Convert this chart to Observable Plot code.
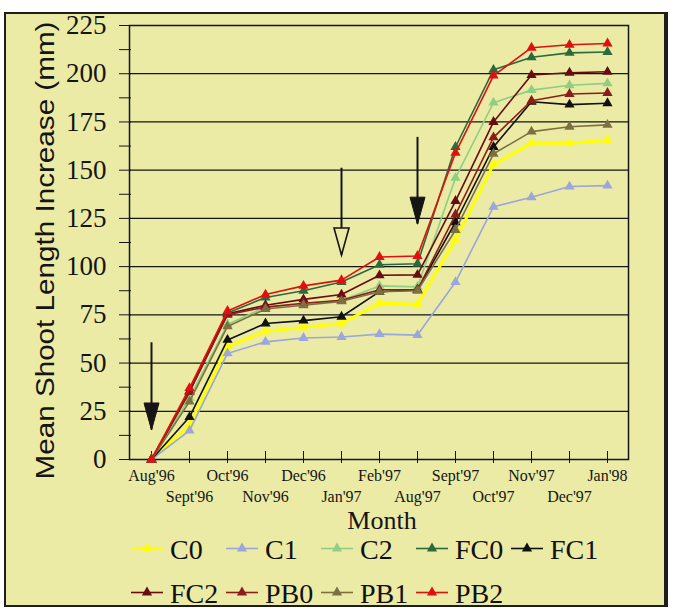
<!DOCTYPE html>
<html>
<head>
<meta charset="utf-8">
<script src="https://cdn.jsdelivr.net/npm/d3@7"></script>
<script src="https://cdn.jsdelivr.net/npm/@observablehq/plot@0.6"></script>
<style>
  html, body { margin: 0; padding: 0; background: #fff; overflow: hidden; width: 674px; height: 613px; }
  #panel { position: absolute; left: 4px; top: 12px; width: 664px; height: 595px; box-sizing: border-box;
           border: 2px solid #1d1d1d; border-right-width: 4px; background: #ebeba6; }
  #chart { position: absolute; left: 0; top: 0; }
  #legend { position: absolute; left: 0; top: 0; font-family: "Liberation Serif", "Times New Roman", Times, serif;
            font-size: 28px; color: #111; }
  .item { position: absolute; display: flex; align-items: flex-start; height: 30px; line-height: 30px; white-space: nowrap; }
  .item svg { display: block; margin-right: 7px; }
</style>
</head>
<body>
<div id="panel"></div>
<div id="chart"></div>
<div id="legend"></div>
<script>
// Sampling months (note the gap between Feb'97 and Aug'97)
const months = ["Aug'96", "Sept'96", "Oct'96", "Nov'96", "Dec'96", "Jan'97", "Feb'97",
                "Aug'97", "Sept'97", "Oct'97", "Nov'97", "Dec'97", "Jan'98"];

// Treatments, in legend order
const treatments = ["C0", "C1", "C2", "FC0", "FC1", "FC2", "PB0", "PB1", "PB2"];
const treatmentColors = ["#ffff00", "#9aa6dc", "#8ecf84", "#2b6a3c", "#111111", "#680c14", "#8e1c1c", "#7d7040", "#e01010"];

// Mean shoot length increase (mm) per treatment
const C0  = [0, 18, 58.5, 66.5, 68.5, 70.5, 81, 80.5, 114, 153, 164, 164, 165.5];
const C1  = [0, 15, 55, 61, 63, 63.5, 65, 64.5, 92, 131, 136, 141.5, 142];
const C2  = [0, 32, 70, 79, 80.5, 82.5, 90, 89.5, 146, 185, 191.5, 194, 195];
const FC0 = [0, 35, 76, 84, 87.5, 92, 101, 101.5, 162, 202, 208.5, 210.8, 211.3];
const FC1 = [0, 22, 62, 70.5, 72, 74, 87, 88, 123, 162, 185.5, 184, 184.7];
const FC2 = [0, 35.5, 75.5, 80, 83, 85.5, 95.5, 95.7, 134, 175, 199.3, 200.5, 201];
const PB0 = [0, 35, 75, 79, 81, 82.5, 88, 88, 127, 167, 186, 189.5, 190];
const PB1 = [0, 30, 69, 78, 80, 82, 87, 87.5, 119, 158.5, 170, 172.5, 173.5];
const PB2 = [0, 37, 77, 85.5, 90, 93, 105, 105.5, 159, 199, 213.5, 215, 215.7];

// Y axis labels and the minor ticks between them
const yTicks = [0, 25, 50, 75, 100, 125, 150, 175, 200, 225];
const yMinorTicks = [12.5, 37.5, 62.5, 87.5, 112.5, 137.5, 162.5, 187.5, 212.5];

// Treatment arrows: month, top of shaft and tip (mm), solid or open head
const arrowMonths = ["Aug'96", "Jan'97", "Aug'97"];
const arrowTops = [60.5, 151, 167];
const arrowTips = [15.3, 106, 122];
const arrowSolid = [true, false, true];

const values = [C0, C1, C2, FC0, FC1, FC2, PB0, PB1, PB2];
const rows = treatments.flatMap((t, i) => values[i].map((v, j) => ({treatment: t, month: months[j], value: v})));
const arrows = arrowMonths.map((m, i) => ({month: m, top: arrowTops[i], tip: arrowTips[i], solid: arrowSolid[i]}));

const bg = "#ebeba6";
const ink = "#151515";
const serif = "'Liberation Serif', 'Times New Roman', Times, serif";
const sans = "'Liberation Sans', Arial, sans-serif";
const yTitle = "Mean Shoot Length Increase (mm)";

// Long narrow arrowhead with its tip at the anchor point
const arrowHead = {
  draw(context) {
    context.moveTo(0, 0);
    context.lineTo(-7.5, -27);
    context.lineTo(7.5, -27);
    context.closePath();
  }
};

const seriesMarks = treatments.flatMap((t, i) => {
  const data = rows.filter(r => r.treatment === t);
  return [
    Plot.line(data, {x: "month", y: "value", stroke: treatmentColors[i], strokeWidth: t === "C0" ? 3 : 1.6}),
    Plot.dot(data, {x: "month", y: "value", symbol: "triangle", r: 3.8, fill: treatmentColors[i], stroke: "none"})
  ];
});

const chart = Plot.plot({
  width: 674,
  height: 613,
  marginLeft: 129,
  marginRight: 46,
  marginTop: 25,
  marginBottom: 154,
  style: {background: "transparent", color: ink, overflow: "visible"},
  x: {type: "point", domain: months, padding: 0.5},
  y: {domain: [0, 225]},
  marks: [
    Plot.ruleY(yTicks, {stroke: ink, strokeWidth: 1.2}),
    Plot.frame({stroke: ink, strokeWidth: 1.5}),
    // y ticks straddling the axis, labels to the left
    Plot.axisY({ticks: [...yTicks, ...yMinorTicks], tickSize: 12, dx: 2, fill: "none", stroke: ink, label: null}),
    Plot.axisY({ticks: yTicks, tickSize: 0, tickPadding: 23, fontSize: 27, fontFamily: serif, fill: ink, label: null}),
    // x ticks straddling the axis, labels staggered on two rows
    Plot.axisX({ticks: months, tickSize: 12, dy: -8, fill: "none", stroke: ink, label: null}),
    Plot.axisX({ticks: months.filter((d, i) => i % 2 === 0), tickSize: 0, tickPadding: 10, fontSize: 16, fontFamily: serif, fill: ink, label: null}),
    Plot.axisX({ticks: months.filter((d, i) => i % 2 === 1), tickSize: 0, tickPadding: 31, fontSize: 16, fontFamily: serif, fill: ink, label: null}),
    // axis titles
    Plot.text([yTitle], {text: d => d, frameAnchor: "left", textAnchor: "middle", rotate: -90, dx: -84, dy: 8, fontSize: 26, fontFamily: sans, fill: ink, lineAnchor: "middle"}),
    Plot.text(["Month"], {text: d => d, frameAnchor: "bottom", textAnchor: "middle", dx: 3, dy: 60.7, fontSize: 26, fontFamily: serif, fill: ink, lineAnchor: "middle"}),
    // data
    ...seriesMarks,
    // arrows marking treatment dates
    Plot.ruleX(arrows, {x: "month", y1: "top", y2: "tip", stroke: ink, strokeWidth: 2}),
    Plot.dot(arrows, {filter: d => d.solid, x: "month", y: "tip", symbol: arrowHead, fill: ink, stroke: ink, strokeWidth: 1}),
    Plot.dot(arrows, {filter: d => !d.solid, x: "month", y: "tip", symbol: arrowHead, fill: bg, stroke: ink, strokeWidth: 1.6})
  ]
});

// stretch the y title along the axis
d3.select(chart).selectAll("text").filter(function () { return this.textContent === yTitle; })
  .attr("textLength", 458).attr("lengthAdjust", "spacingAndGlyphs");

document.getElementById("chart").append(chart);

// legend: two rows on a fixed column grid
const legend = d3.select("#legend");
treatments.forEach((t, i) => {
  const row = i < 5 ? 0 : 1;
  const col = i < 5 ? i : i - 5;
  const item = legend.append("div").attr("class", "item")
    .style("left", (131 + col * 95) + "px")
    .style("top", (row === 0 ? 535 : 578.5) + "px");
  const sw = item.append("svg").attr("width", 32).attr("height", 30);
  sw.append("line").attr("x1", 0).attr("x2", 32).attr("y1", 13.5).attr("y2", 13.5)
    .attr("stroke", treatmentColors[i]).attr("stroke-width", t === "C0" ? 2.5 : 1.6);
  sw.append("path").attr("d", d3.symbol(d3.symbolTriangle, 45)()).attr("transform", "translate(16,13.5)")
    .attr("fill", treatmentColors[i]);
  item.append("span").text(t);
});
</script>
</body>
</html>
